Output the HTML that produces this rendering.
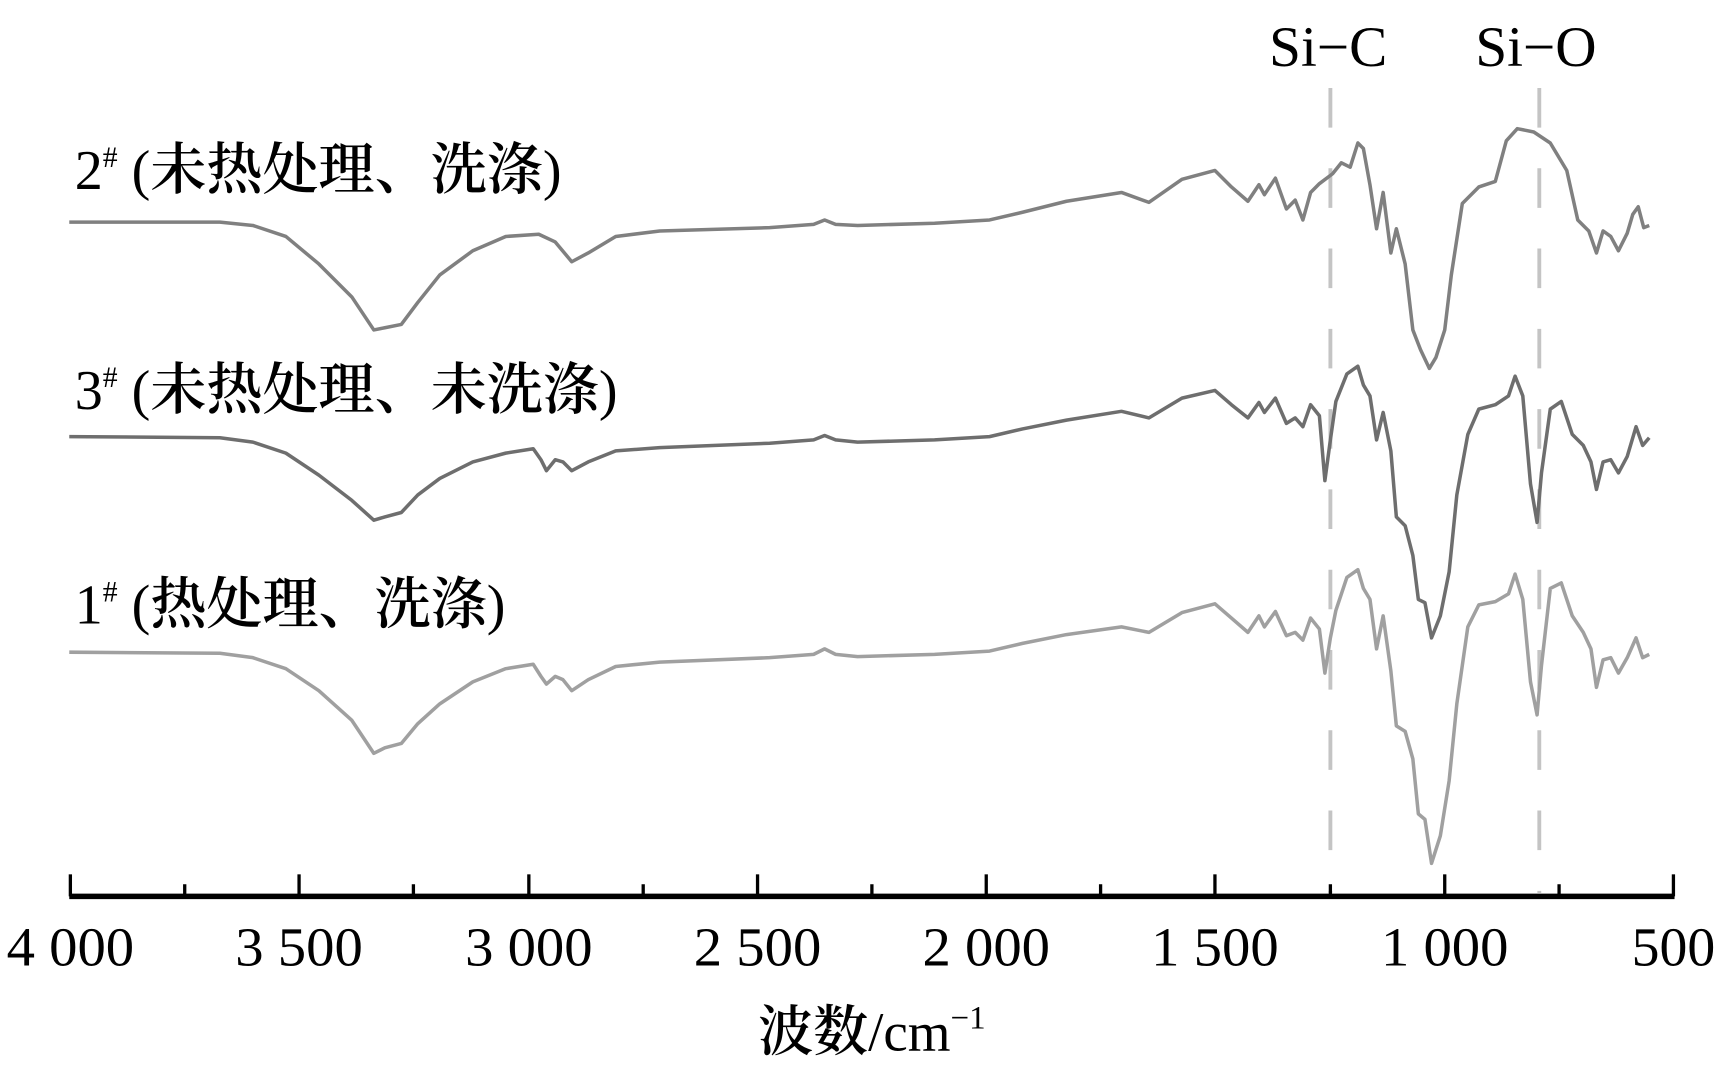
<!DOCTYPE html>
<html><head><meta charset="utf-8"><style>
html,body{margin:0;padding:0;background:#fff;width:1724px;height:1080px;overflow:hidden}
svg{display:block}
text{font-family:"Liberation Serif","Noto Serif CJK SC","Noto Sans CJK SC",serif;fill:#000}
.c{font-weight:600}
</style></head><body>
<svg width="1724" height="1080" viewBox="0 0 1568 982" preserveAspectRatio="none">
<g stroke="#c4c4c4" stroke-width="3.5" stroke-dasharray="36 37">
<line x1="1210" y1="80" x2="1210" y2="812"/>
<line x1="1400" y1="80" x2="1400" y2="812"/>
</g>
<g fill="none" stroke-width="3.2" stroke-linejoin="round">
<polyline stroke="#808080" points="63,202 200,202 230,205 260,215 290,240 320,270 340,300 350,298 365,295 380,275 400,250 430,228 460,215 490,213 505,220 520,238 535,230 560,215 600,210 700,207 740,204 750,200 760,204 780,205 850,203 900,200 930,193 970,183 1020,175 1045,184 1075,163 1105,155 1120,170 1135,183 1145,168 1150,177 1160,162 1170,190 1178,182 1185,200 1192,175 1200,167 1212,158 1220,148 1228,152 1235,130 1240,135 1246,168 1252,208 1258,175 1265,230 1270,208 1278,240 1285,300 1292,318 1300,335 1306,325 1314,300 1320,250 1330,185 1345,170 1360,165 1370,128 1380,117 1395,120 1410,130 1425,155 1435,200 1445,210 1452,230 1458,210 1465,215 1472,228 1480,212 1485,195 1490,188 1495,207 1500,205"/>
<polyline stroke="#6e6e6e" points="63,397 200,398 230,402 260,412 290,432 320,455 340,473 350,470 365,466 380,450 400,435 430,420 460,412 485,408 492,418 497,428 505,418 512,420 520,428 535,420 560,410 600,407 700,403 740,400 750,396 760,400 780,402 850,400 900,397 930,390 970,382 1020,374 1045,380 1075,362 1105,355 1120,368 1135,380 1145,366 1150,375 1160,362 1170,385 1178,380 1185,388 1192,368 1200,378 1205,437 1210,400 1215,365 1225,340 1235,333 1240,350 1246,360 1252,400 1258,375 1265,410 1270,470 1278,478 1285,505 1290,545 1296,548 1302,580 1310,560 1318,520 1325,450 1335,395 1345,372 1360,368 1372,360 1378,342 1385,360 1392,440 1398,475 1402,430 1410,372 1420,365 1430,395 1440,405 1447,420 1452,445 1458,420 1465,418 1472,430 1480,415 1488,388 1494,405 1500,398"/>
<polyline stroke="#a0a0a0" points="63,593 200,594 230,598 260,608 290,628 320,655 340,685 350,680 365,676 380,658 400,640 430,620 460,608 485,604 492,615 497,622 505,615 512,618 520,628 535,618 560,606 600,602 700,598 740,595 750,590 760,595 780,597 850,595 900,592 930,585 970,577 1020,570 1045,575 1075,557 1105,549 1120,562 1135,575 1145,560 1150,570 1160,556 1170,578 1178,575 1185,582 1192,562 1200,572 1205,612 1210,580 1215,555 1225,525 1235,518 1240,535 1246,545 1252,590 1258,560 1265,610 1270,660 1278,665 1285,690 1290,740 1296,745 1302,785 1310,760 1318,710 1325,640 1335,570 1345,550 1360,547 1372,540 1378,522 1385,545 1392,620 1398,650 1402,605 1410,535 1420,530 1430,560 1440,575 1447,590 1452,625 1458,600 1465,598 1472,612 1480,598 1488,580 1494,598 1500,595"/>
</g>
<g stroke="#000" stroke-width="3">
<line x1="63" y1="815" x2="1523" y2="815" stroke-width="5"/>
<line x1="64" y1="795" x2="64" y2="815"/><line x1="272" y1="795" x2="272" y2="815"/><line x1="481" y1="795" x2="481" y2="815"/><line x1="689" y1="795" x2="689" y2="815"/><line x1="897" y1="795" x2="897" y2="815"/><line x1="1105" y1="795" x2="1105" y2="815"/><line x1="1314" y1="795" x2="1314" y2="815"/><line x1="1522" y1="795" x2="1522" y2="815"/>
<line x1="168" y1="804" x2="168" y2="815"/><line x1="376" y1="804" x2="376" y2="815"/><line x1="585" y1="804" x2="585" y2="815"/><line x1="793" y1="804" x2="793" y2="815"/><line x1="1001" y1="804" x2="1001" y2="815"/><line x1="1210" y1="804" x2="1210" y2="815"/><line x1="1418" y1="804" x2="1418" y2="815"/>
</g>
<g font-size="50" text-anchor="middle">
<text x="64" y="878" textLength="116" lengthAdjust="spacingAndGlyphs">4 000</text>
<text x="272" y="878" textLength="116" lengthAdjust="spacingAndGlyphs">3 500</text>
<text x="481" y="878" textLength="116" lengthAdjust="spacingAndGlyphs">3 000</text>
<text x="689" y="878" textLength="116" lengthAdjust="spacingAndGlyphs">2 500</text>
<text x="897" y="878" textLength="116" lengthAdjust="spacingAndGlyphs">2 000</text>
<text x="1105" y="878" textLength="116" lengthAdjust="spacingAndGlyphs">1 500</text>
<text x="1314" y="878" textLength="116" lengthAdjust="spacingAndGlyphs">1 000</text>
<text x="1522" y="878" textLength="76" lengthAdjust="spacingAndGlyphs">500</text>
<text x="793" y="955" font-size="50"><tspan class="c">波数</tspan>/cm<tspan font-size="30" dy="-20">−1</tspan></text>
<text x="1208" y="60" font-size="52">Si−C</text>
<text x="1397" y="60" font-size="52">Si−O</text>
</g>
<g font-size="51">
<text x="68" y="172">2<tspan font-size="27" dy="-20">#</tspan><tspan dy="20"> (<tspan class="c">未热处理、洗涤</tspan>)</tspan></text>
<text x="68" y="372">3<tspan font-size="27" dy="-20">#</tspan><tspan dy="20"> (<tspan class="c">未热处理、未洗涤</tspan>)</tspan></text>
<text x="68" y="567">1<tspan font-size="27" dy="-20">#</tspan><tspan dy="20"> (<tspan class="c">热处理、洗涤</tspan>)</tspan></text>
</g>
</svg>
</body></html>
